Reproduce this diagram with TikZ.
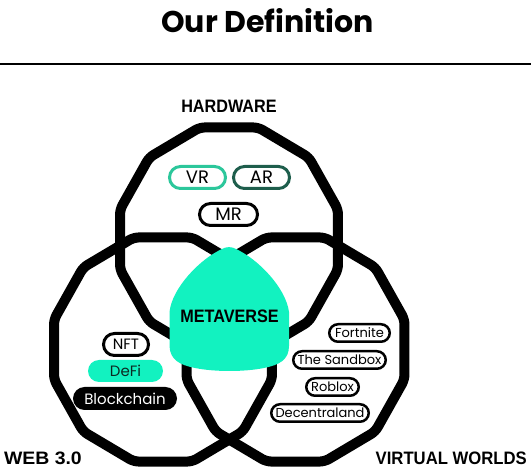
\documentclass[tikz,border=0pt]{standalone}
\usepackage{fontspec}
\setmainfont{Poppins}
\newfontfamily\condfont[FakeStretch=0.9]{Liberation Sans}
\usetikzlibrary{shapes.misc}
\definecolor{mint}{HTML}{12F2C0}
\definecolor{vrteal}{HTML}{2CC79B}
\definecolor{ardark}{HTML}{1E5E4C}
\definecolor{defitext}{HTML}{0B2A22}
\begin{document}
\begin{tikzpicture}[x=1pt,y=-1pt,
  ring/.style={line width=10pt, rounded corners=5pt},
  head/.style={font=\condfont\bfseries\fontsize{18}{18}\selectfont, inner sep=0pt},
  toppill/.style={rounded rectangle, draw, line width=3pt, inner sep=0pt,
     minimum width=56pt, minimum height=22pt, font=\fontsize{18}{18}\selectfont},
  leftpill/.style={rounded rectangle, inner sep=0pt, minimum height=22pt,
     font=\fontsize{15}{15}\selectfont},
  rightpill/.style={rounded rectangle, draw, line width=2.5pt, inner sep=0pt,
     minimum height=17.5pt, font=\fontsize{13}{13}\selectfont}
]
\useasboundingbox (0,0) rectangle (531,470);

% title and rule
\node[font=\bfseries\fontsize{30}{30}\selectfont, anchor=base, inner sep=0pt] (title) at (267.5,33) {Our Definition};
\coordinate (rl) at (0,64);
\coordinate (rr) at (531,64);
\draw[line width=2.5pt] (rl) -- (rr);

% three rings
\coordinate (ct) at (229,239.5);
\coordinate (cl) at (163,349.5);
\coordinate (cr) at (295.5,349.5);
\foreach \c in {ct,cl,cr}{
  \draw[ring] (\c) +(0:109 and 112) -- +(15:112.8 and 116) -- +(45:112.8 and 116)
    -- +(75:112.8 and 116) -- +(105:112.8 and 116) -- +(135:112.8 and 116)
    -- +(165:112.8 and 116) -- +(195:112.8 and 116) -- +(225:112.8 and 116)
    -- +(255:112.8 and 116) -- +(285:112.8 and 116) -- +(315:112.8 and 116)
    -- +(345:112.8 and 116) -- cycle;
}

% metaverse blob
\fill[mint] (222,249) .. controls (200,259) and (172,288) .. (169.5,312)
  -- (169.5,346) .. controls (170,360) and (180,365) .. (195,368)
  .. controls (215,372) and (244,372) .. (264,368)
  .. controls (279,365) and (289,360) .. (289,346)
  -- (289,312) .. controls (286,288) and (258,259) .. (236,249)
  .. controls (232,246.5) and (226,246.5) .. (222,249) -- cycle;

% headings
\node[head, anchor=base] (hw) at (229,113) {HARDWARE};
\node[head, anchor=base] (mv) at (229.5,323) {METAVERSE};
\node[head, anchor=base east] (w3) at (82,465) {\scalebox{1.2}[1]{WEB 3.0}};
\node[head, anchor=base east] (vw) at (527,465) {\scalebox{1.03}[1]{VIRTUAL WORLDS}};

% hardware pills
\node[toppill, draw=vrteal] (vr) at (197.5,177.5) {VR};
\node[toppill, draw=ardark] (ar) at (261.5,177.5) {AR};
\node[toppill, minimum width=58pt] (mr) at (228.5,214.5) {MR};

% web3 pills
\node[leftpill, draw, line width=3pt, minimum width=45pt] (nft) at (126,344.5) {NFT};
\node[leftpill, fill=mint, text=defitext, minimum width=75pt] (defi) at (125.5,371) {DeFi};
\node[leftpill, fill=black, text=white, minimum width=104pt, minimum height=23pt] (bc) at (125,398.5) {Blockchain};

% virtual world pills
\node[rightpill, minimum width=60.5pt] (fn) at (359.5,333) {Fortnite};
\node[rightpill, minimum width=92.5pt] (sb) at (339.5,360) {The Sandbox};
\node[rightpill, minimum width=52.5pt] (rb) at (332.5,387) {Roblox};
\node[rightpill, minimum width=97.5pt] (dl) at (320,413) {Decentraland};
\end{tikzpicture}
\end{document}
